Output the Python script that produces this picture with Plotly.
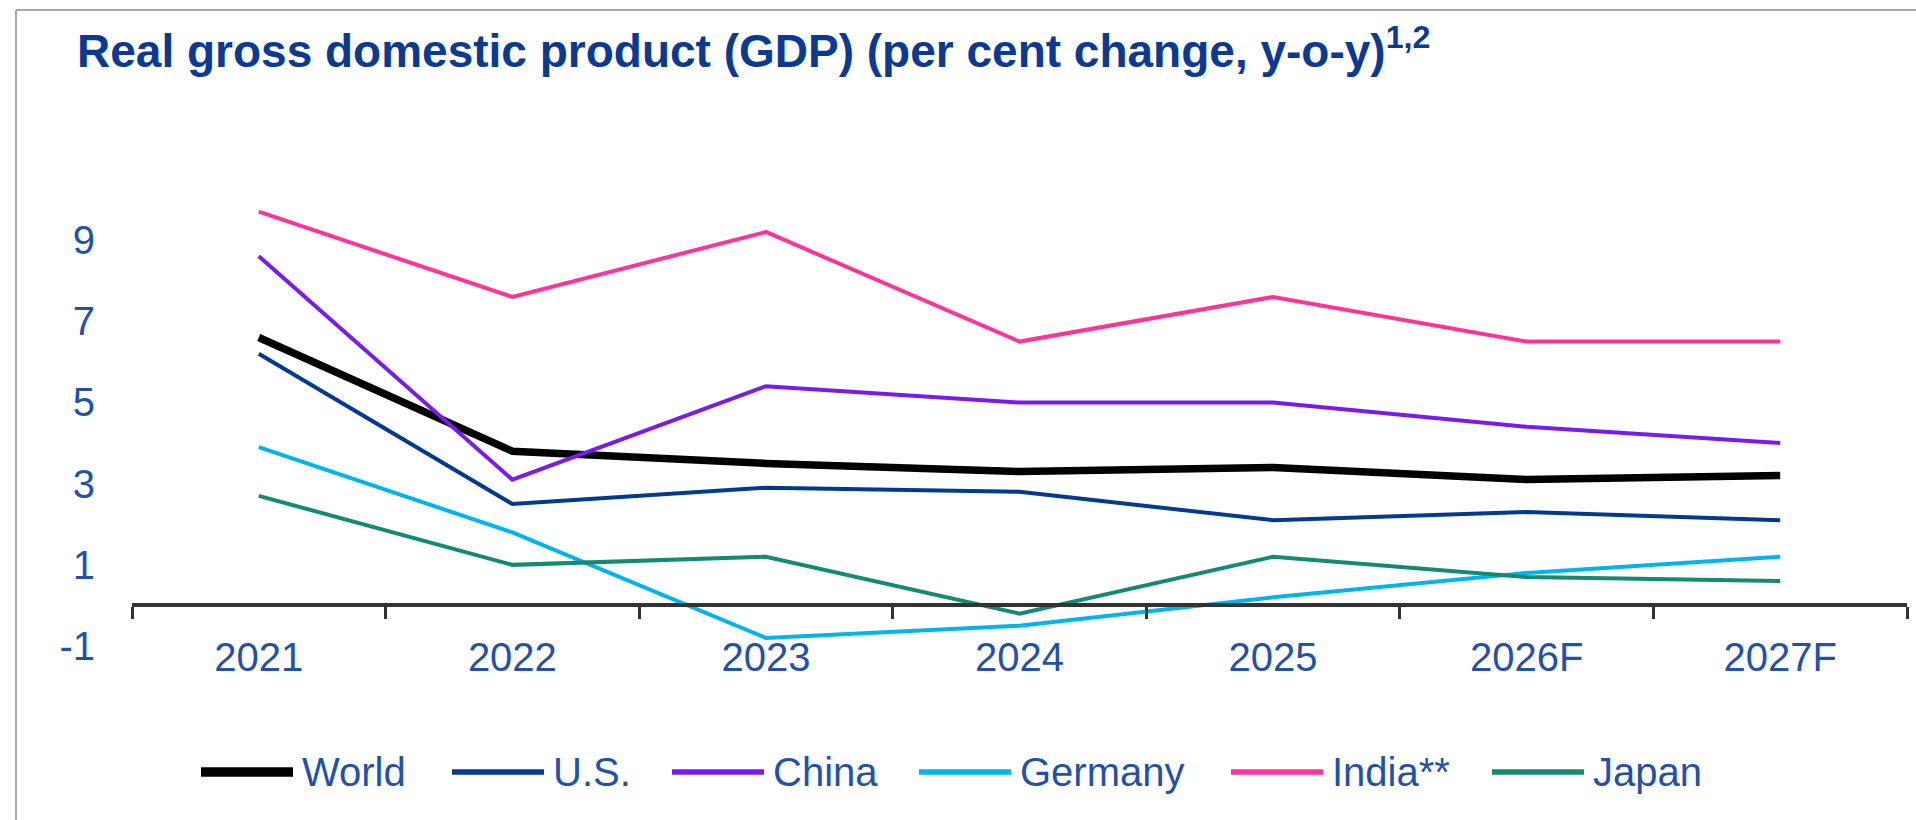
import plotly.graph_objects as go

# ---------------- data ----------------
years = ["2021", "2022", "2023", "2024", "2025", "2026F", "2027F"]
world = [6.6, 3.8, 3.5, 3.3, 3.4, 3.1, 3.2]
us = [6.2, 2.5, 2.9, 2.8, 2.1, 2.3, 2.1]
china = [8.6, 3.1, 5.4, 5.0, 5.0, 4.4, 4.0]
germany = [3.9, 1.8, -0.8, -0.5, 0.2, 0.8, 1.2]
india = [9.7, 7.6, 9.2, 6.5, 7.6, 6.5, 6.5]
japan = [2.7, 1.0, 1.2, -0.2, 1.2, 0.7, 0.6]
y_ticks = [-1, 1, 3, 5, 7, 9]
y_tick_labels = ["-1", "1", "3", "5", "7", "9"]
series_names = ["World", "U.S.", "China", "Germany", "India**", "Japan"]
title_text = "Real gross domestic product (GDP) (per cent change, y-o-y)"
title_sup = "1,2"

# ---------------- style ----------------
W, H = 1916, 820
ML, MR, MT, MB = 132, 9, 180, 165
YMIN, YMAX = -1.22, 10.48
FONT = "Liberation Sans, Arial, sans-serif"
TITLE_COLOR = "#0b3a94"
LABEL_COLOR = "#2350aa"
AXIS_COLOR = "#333333"
colors = ["#000000", "#003a91", "#7a1af0", "#00b4f0", "#ff3399", "#138a72"]
widths = [7.5, 4, 4, 4, 4, 4]
legend_widths = [9.5, 5.5, 5.5, 5.5, 5.5, 5.5]
legend_x = [201, 452, 672, 919, 1231, 1492]   # legend key left edges (px)
legend_len = 92
legend_gap = 7
legend_y = 772

plot_w = W - ML - MR
plot_h = H - MT - MB


def px_x(px):
    return (px - ML) / plot_w


def px_y(py):
    return 1 - (py - MT) / plot_h


all_series = [world, us, china, germany, india, japan]

fig = go.Figure()
for name, vals, col, wd in zip(series_names, all_series, colors, widths):
    fig.add_trace(go.Scatter(
        x=years, y=vals, name=name, mode="lines",
        line=dict(color=col, width=wd),
        showlegend=False,
    ))

shapes = []
annotations = []
# custom legend keys
for name, col, lw, x0 in zip(series_names, colors, legend_widths, legend_x):
    shapes.append(dict(type="line", xref="paper", yref="paper",
                       x0=px_x(x0), x1=px_x(x0 + legend_len),
                       y0=px_y(legend_y), y1=px_y(legend_y),
                       line=dict(color=col, width=lw)))
    annotations.append(dict(text=name, xref="paper", yref="paper",
                            x=px_x(x0 + legend_len + legend_gap), y=px_y(legend_y),
                            xanchor="left", yanchor="middle", showarrow=False,
                            font=dict(family=FONT, size=40, color=LABEL_COLOR)))

# outer frame (top and left edges visible)
shapes.append(dict(type="line", xref="paper", yref="paper",
                   x0=px_x(16), x1=px_x(W + 5), y0=px_y(10), y1=px_y(10),
                   line=dict(color="#a8a8a8", width=2)))
shapes.append(dict(type="line", xref="paper", yref="paper",
                   x0=px_x(16), x1=px_x(16), y0=px_y(10), y1=px_y(H + 5),
                   line=dict(color="#a8a8a8", width=2)))

x_axis_pos = (0 - YMIN) / (YMAX - YMIN)

fig.update_layout(
    width=W, height=H,
    margin=dict(l=ML, r=MR, t=MT, b=MB, pad=0),
    paper_bgcolor="white", plot_bgcolor="white",
    showlegend=False,
    title=dict(
        text=f"<b>{title_text}<sup>{title_sup}</sup></b>",
        x=77 / W, xref="container", xanchor="left",
        y=1 - 35 / H, yref="container", yanchor="top",
        font=dict(family=FONT, size=46, color=TITLE_COLOR),
    ),
    xaxis=dict(
        type="category", range=[-0.5, 6.5],
        showline=True, linecolor=AXIS_COLOR, linewidth=4,
        ticks="outside", tickson="boundaries", ticklen=12, tickwidth=3,
        tickcolor=AXIS_COLOR,
        anchor="free", position=x_axis_pos,
        showgrid=False, zeroline=False,
        tickfont=dict(family=FONT, size=40, color=LABEL_COLOR),
        ticklabelstandoff=16,
    ),
    yaxis=dict(
        range=[YMIN, YMAX], tickmode="array", tickvals=y_ticks,
        ticktext=y_tick_labels,
        showgrid=False, zeroline=False, showline=False, ticks="",
        tickfont=dict(family=FONT, size=40, color=LABEL_COLOR),
        ticklabelstandoff=36,
    ),
    shapes=shapes,
    annotations=annotations,
)

fig.write_html("out.html",
               config={"displayModeBar": False},
               post_script="document.body.style.margin='0';document.body.style.overflow='hidden';")
